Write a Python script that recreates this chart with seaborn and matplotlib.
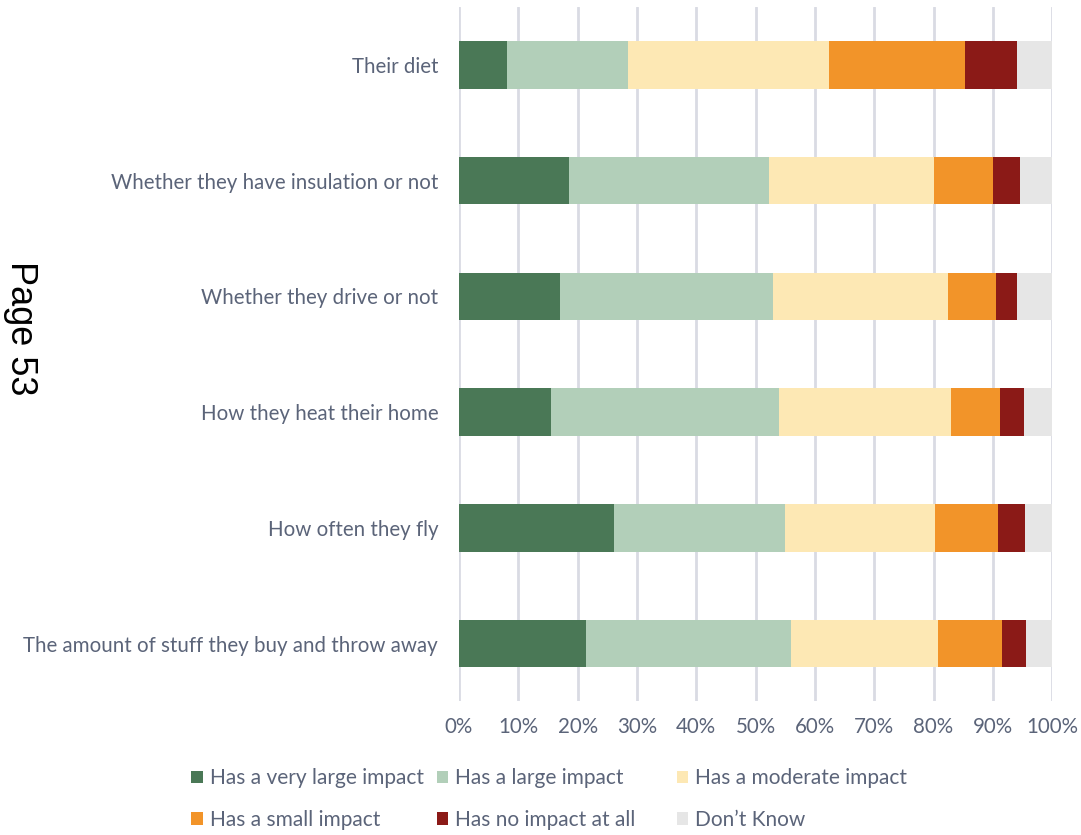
import matplotlib
matplotlib.use("Agg")
import matplotlib.pyplot as plt
from matplotlib.patches import Patch
from matplotlib.ticker import PercentFormatter
import numpy as np
import pandas as pd
import seaborn as sns

categories = [
    "Their diet",
    "Whether they have insulation or not",
    "Whether they drive or not",
    "How they heat their home",
    "How often they fly",
    "The amount of stuff they buy and throw away",
]
series_names = [
    "Has a very large impact",
    "Has a large impact",
    "Has a moderate impact",
    "Has a small impact",
    "Has no impact at all",
    "Don\u2019t Know",
]
very_large = [8.1, 18.6, 17.0, 15.5, 26.2, 21.4]
large = [20.4, 33.7, 36.0, 38.5, 28.7, 34.6]
moderate = [33.9, 27.8, 29.4, 29.0, 25.4, 24.7]
small = [22.9, 10.0, 8.1, 8.2, 10.5, 10.9]
no_impact = [8.8, 4.4, 3.6, 4.0, 4.6, 4.0]
dont_know = [5.9, 5.5, 5.9, 4.8, 4.6, 4.4]
x_ticks = [0, 10, 20, 30, 40, 50, 60, 70, 80, 90, 100]

colors = ["#4a7856", "#b2cfb9", "#fde8b4", "#f29429", "#8b1a17", "#e6e6e6"]
text_color = "#5b6479"

sns.set_theme(style="white")
plt.rcParams["font.family"] = ["Lato", "DejaVu Sans"]

series = [very_large, large, moderate, small, no_impact, dont_know]
df = pd.DataFrame({"category": categories})
cum = np.zeros(len(categories))
for name, vals in zip(series_names, series):
    cum = cum + np.array(vals)
    df[name] = cum

fig = plt.figure(figsize=(10.81, 8.35), dpi=100)
ax = fig.add_axes([0.4246, 0.160, 0.5487, 0.8316])

# draw cumulative totals from largest to smallest so they stack visually
for name, col in reversed(list(zip(series_names, colors))):
    sns.barplot(data=df, y="category", x=name, orient="h", color=col,
                width=0.41, saturation=1, ax=ax, linewidth=0, zorder=3)

ax.set_xlim(0, 100)
ax.set_xticks(x_ticks)
ax.xaxis.set_major_formatter(PercentFormatter(decimals=0))
ax.grid(axis="x", color="#d9dbe3", linewidth=2, zorder=0)
ax.grid(axis="y", visible=False)
for s in ax.spines.values():
    s.set_visible(False)
ax.set_xlabel("")
ax.set_ylabel("")
ax.tick_params(axis="both", length=0, labelsize=14.8, labelcolor=text_color)
ax.tick_params(axis="x", pad=11)
ax.tick_params(axis="y", pad=15)
ax.set_ylim(len(categories) - 0.5, -0.5)

# legend in three columns, two rows
handles = [Patch(facecolor=c, edgecolor="none") for c in colors]
col_x = [0.177, 0.404, 0.626]
for i, x in enumerate(col_x):
    leg = fig.legend([handles[i], handles[i + 3]],
                     [series_names[i], series_names[i + 3]],
                     loc="upper left", bbox_to_anchor=(x, 0.08),
                     frameon=False, ncol=1, fontsize=15,
                     handlelength=0.55, handleheight=0.55, handletextpad=0.35,
                     labelspacing=1.05, borderaxespad=0, borderpad=0)
    for t in leg.get_texts():
        t.set_color(text_color)

fig.text(0.019, 0.607, "Page 53", rotation=-90, fontsize=26, color="black",
         family=["Liberation Sans", "DejaVu Sans"], ha="center", va="center")

fig.savefig("out.png", dpi=100)
